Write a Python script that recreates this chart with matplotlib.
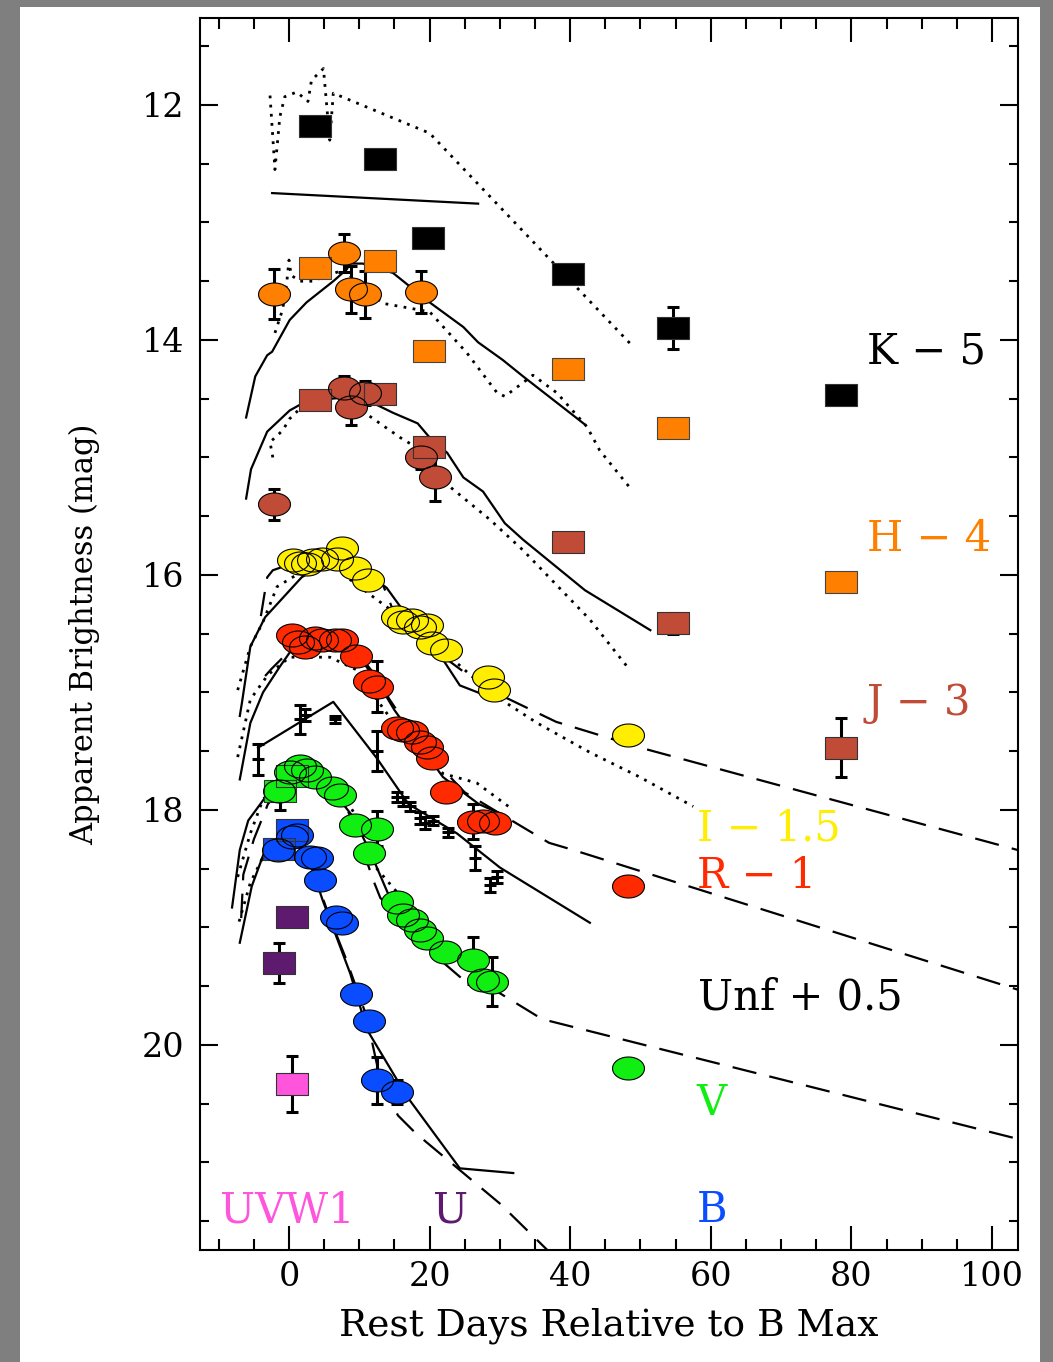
import numpy as np
import matplotlib.pyplot as plt
from matplotlib.path import Path
from matplotlib.patches import Rectangle
from matplotlib.ticker import MultipleLocator

plt.rcParams['font.family'] = ['DejaVu Serif']

# ---------------- photometry (rest days, mag) ----------------
k_day = [3.7, 12.9, 19.8, 39.7, 54.6, 78.5]
k_mag = [12.18, 12.46, 13.13, 13.44, 13.90, 14.47]
k_err = [0, 0, 0, 0, 0.18, 0]

h_cday = [-2.1, 7.8, 8.8, 10.8, 18.8]
h_cmag = [13.61, 13.26, 13.57, 13.61, 13.59]
h_cerr = [0.21, 0.16, 0.2, 0.2, 0.18]
h_sday = [3.7, 12.9, 19.9, 39.7, 54.6, 78.5]
h_smag = [13.39, 13.33, 14.09, 14.25, 14.75, 16.06]
h_serr = [0, 0, 0, 0, 0, 0.05]

j_cday = [-2.1, 7.8, 8.8, 10.8, 18.8, 20.8]
j_cmag = [15.40, 14.41, 14.57, 14.45, 15.00, 15.17]
j_cerr = [0.13, 0.1, 0.15, 0.1, 0.1, 0.2]
j_sday = [3.7, 12.9, 19.9, 39.7, 54.6, 78.5]
j_smag = [14.51, 14.46, 14.91, 15.72, 16.41, 17.47]
j_serr = [0, 0, 0, 0, 0.09, 0.25]

i_day = [0.6, 1.6, 2.5, 3.4, 4.7, 6.8, 7.5, 9.4, 11.2, 15.4, 16.2, 17.5, 18.6,
         19.6, 20.3, 22.3, 28.3, 29.2, 48.2]
i_mag = [15.87, 15.90, 15.91, 15.87, 15.86, 15.86, 15.77, 15.94, 16.04, 16.36,
         16.40, 16.38, 16.44, 16.43, 16.58, 16.64, 16.87, 16.98, 17.36]

r_day = [0.4, 1.3, 2.3, 3.7, 4.7, 6.5, 7.5, 9.5, 11.4, 12.5, 15.4, 16.2, 17.5,
         18.6, 19.6, 20.3, 22.3, 26.2, 27.6, 29.3, 48.2]
r_mag = [16.51, 16.57, 16.61, 16.54, 16.55, 16.55, 16.55, 16.69, 16.90, 16.95,
         17.30, 17.32, 17.34, 17.42, 17.46, 17.56, 17.85, 18.10, 18.09, 18.11, 18.65]
r_err = [0, 0, 0, 0, 0, 0, 0, 0, 0, 0.22, 0, 0, 0, 0, 0, 0, 0, 0.15, 0, 0, 0]

unf_day = [-4.4, 1.6, 2.3, 6.5, 12.5, 15.4, 16.2, 17.2, 18.6, 19.3, 20.5, 22.6,
           26.5, 28.6, 29.6]
unf_mag = [17.57, 17.23, 17.19, 17.23, 17.50, 17.89, 17.93, 17.97, 18.07, 18.11,
           18.09, 18.19, 18.41, 18.64, 18.57]
unf_err = [0.13, 0.12, 0.05, 0.03, 0.17, 0.04, 0.04, 0.04, 0.05, 0.05, 0.04,
           0.04, 0.10, 0.06, 0.05]

v_cday = [-1.4, 0.1, 1.6, 2.5, 3.7, 6.1, 7.3, 9.4, 11.4, 12.5, 15.4, 16.2, 17.5,
          18.6, 19.6, 22.2, 26.2, 27.6, 28.9, 48.2]
v_cmag = [17.84, 17.68, 17.63, 17.66, 17.72, 17.81, 17.87, 18.13, 18.37, 18.16,
          18.78, 18.89, 18.94, 19.02, 19.09, 19.21, 19.28, 19.45, 19.46, 20.20]
v_cerr = [0, 0, 0, 0, 0, 0, 0, 0, 0, 0.15, 0, 0, 0, 0, 0, 0, 0.2, 0, 0.21, 0]
v_sday = [-1.3, 0.4]
v_smag = [17.84, 17.71]
v_serr = [0.16, 0]

b_cday = [-1.6, 0.4, 1.1, 3.0, 4.0, 4.4, 6.7, 7.5, 9.5, 11.4, 12.5, 15.4]
b_cmag = [18.34, 18.23, 18.21, 18.40, 18.41, 18.60, 18.91, 18.96, 19.57, 19.80,
          20.30, 20.40]
b_cerr = [0, 0, 0, 0, 0, 0, 0, 0, 0, 0, 0.2, 0.1]
b_sday = [-1.4, 0.4]
b_smag = [18.33, 18.17]

u_day = [-1.4, 0.4]
u_mag = [19.30, 18.91]
u_err = [0.17, 0]

uvw1_day = [0.4]
uvw1_mag = [20.33]
uvw1_err = [0.24]

# ---------------- model / template curves ----------------
k_dot_day = [-2.7, -2.0, -1.3, -0.6, 1.1, 2.7, 3.2, 4.9, 5.8, 6.3, 20.0, 28.6, 49.0]
k_dot_mag = [11.92, 12.55, 12.10, 11.93, 11.89, 11.97, 11.79, 11.69, 12.30, 11.90,
             12.24, 12.78, 14.06]
k_sol_day = [-2.4, 26.9]
k_sol_mag = [12.75, 12.84]

h_sol_day = [-6.1, -4.8, -3.1, -2.4, 0.1, 2.5, 6.3, 8.2, 8.7, 10.5, 14.8, 20.0,
             24.8, 26.9, 30.4, 33.3, 42.1]
h_sol_mag = [14.66, 14.31, 14.13, 14.10, 13.83, 13.68, 13.50, 13.40, 13.35, 13.35,
             13.43, 13.68, 13.89, 14.02, 14.17, 14.31, 14.72]
h_dot_day = [-2.0, -0.9, -0.3, 0.0, 0.3, 1.6, 3.4, 5.5, 8.0, 10.0, 13.5, 20.0,
             25.3, 29.6, 30.7, 34.7, 38.1, 42.4, 44.2, 48.8]
h_dot_mag = [13.94, 13.74, 13.50, 13.32, 13.45, 13.50, 13.50, 13.45, 13.40, 13.55,
             13.69, 13.76, 14.11, 14.45, 14.48, 14.30, 14.45, 14.74, 14.94, 15.28]

j_sol_day = [-6.1, -5.4, -3.1, 0.1, 1.6, 6.0, 10.0, 14.8, 18.3, 20.0, 22.5, 24.8,
             27.6, 30.7, 33.3, 42.1, 51.4]
j_sol_mag = [15.35, 15.10, 14.78, 14.60, 14.55, 14.50, 14.48, 14.62, 14.71, 14.83,
             14.96, 15.17, 15.29, 15.56, 15.70, 16.13, 16.47]
j_dot_day = [-2.3, -2.7, -0.9, 0.1, 1.3, 3.0, 6.0, 8.0, 11.5, 15.8, 19.1, 22.9,
             28.6, 33.3, 42.8, 48.5]
j_dot_mag = [15.00, 14.87, 14.77, 14.67, 14.60, 14.55, 14.50, 14.50, 14.65, 14.83,
             14.95, 15.25, 15.53, 15.79, 16.38, 16.81]

i_sol_day = [-7.0, -6.7, -5.5, -3.4, 1.8, 5.0, 8.0, 11.0, 13.9, 16.2, 21.9, 24.3, 28.6]
i_sol_mag = [17.20, 17.09, 16.61, 16.36, 16.02, 15.90, 15.88, 15.98, 16.11, 16.30,
             16.72, 16.94, 17.04]
i_dsh_day = [-4.0, -3.1, -2.3, 2.0, 7.0, 11.0, 13.4, 14.8, 19.0, 22.5, 27.0, 30.0,
             38.0, 50.0, 103.6]
i_dsh_mag = [16.35, 16.02, 15.96, 15.87, 15.83, 16.00, 16.09, 16.30, 16.55, 16.72,
             16.92, 17.02, 17.25, 17.47, 18.34]
i_dot_day = [-7.3, -5.5, -3.7, -1.7, 1.6, 6.3, 8.7, 12.5, 19.1, 23.9, 28.6, 35.3,
             42.8, 49.9, 57.5]
i_dot_mag = [16.98, 16.61, 16.40, 16.10, 15.98, 15.93, 16.04, 16.21, 16.50, 16.75,
             17.00, 17.26, 17.51, 17.72, 17.97]

r_sol_day = [-7.0, -5.5, -3.7, -1.3, 0.1, 3.0, 7.0, 10.0, 12.5, 15.0, 18.0, 21.9,
             24.3, 27.0, 30.0]
r_sol_mag = [17.74, 17.26, 17.00, 16.78, 16.66, 16.58, 16.57, 16.70, 16.90, 17.15,
             17.40, 17.72, 17.83, 17.95, 18.03]
r_dsh_day = [-3.4, -2.5, 0.0, 3.0, 7.0, 10.0, 13.5, 14.2, 17.0, 21.0, 25.0, 30.0,
             37.0, 40.4, 103.7]
r_dsh_mag = [16.86, 16.80, 16.65, 16.58, 16.56, 16.68, 16.95, 17.05, 17.30, 17.60,
             17.85, 18.03, 18.28, 18.34, 19.53]
r_dot_day = [-7.3, -5.5, -3.0, 0.1, 5.8, 9.7, 12.5, 16.0, 21.9, 26.7, 31.9]
r_dot_mag = [17.55, 17.06, 16.85, 16.70, 16.70, 16.81, 17.06, 17.35, 17.69, 17.77, 18.00]

unf_sol_day = [-4.4, 6.3, 12.5, 17.0, 23.9, 30.0, 42.8]
unf_sol_mag = [17.47, 17.08, 17.56, 17.95, 18.20, 18.49, 18.96]

v_sol_day = [-8.1, -7.0, -5.8, -3.1, 0.0, 3.0, 6.0, 9.0, 11.5, 14.0, 17.0, 21.0, 24.3]
v_sol_mag = [18.83, 18.34, 18.09, 17.87, 17.73, 17.72, 17.82, 18.05, 18.35, 18.70,
             18.95, 19.25, 19.42]
v_dot_day = [-7.3, -5.5, -3.7, -1.0, 2.0, 5.0, 8.0, 10.0, 12.5, 16.8, 20.0]
v_dot_mag = [18.57, 18.20, 17.91, 17.75, 17.70, 17.75, 17.90, 18.10, 18.50, 18.80, 18.97]
v_dsh_day = [-6.8, -6.5, -5.0, -3.0, 0.0, 3.0, 6.0, 8.0, 10.0, 12.0, 13.0, 16.0,
             20.0, 25.0, 30.0, 36.0, 53.2, 103.7]
v_dsh_mag = [18.92, 18.55, 18.25, 17.95, 17.75, 17.70, 17.80, 17.95, 18.25, 18.60,
             18.75, 18.90, 19.10, 19.30, 19.56, 19.78, 20.04, 20.80]

b_sol_day = [-7.0, -5.3, -3.4, -1.3, 1.0, 3.0, 4.8, 8.7, 11.1, 16.8, 24.3, 31.9]
b_sol_mag = [19.13, 18.65, 18.34, 18.26, 18.25, 18.45, 18.77, 19.39, 19.87, 20.44,
             21.05, 21.09]
b_dot_day = [-7.1, -5.5, -3.7, -2.0]
b_dot_mag = [18.95, 18.62, 18.40, 18.30]
b_dsh_day = [0.0, 3.0, 6.0, 8.0, 9.5, 11.0, 13.0, 15.5, 18.0, 21.0, 25.0, 30.0, 37.0]
b_dsh_mag = [18.20, 18.45, 18.95, 19.25, 19.50, 19.75, 20.30, 20.60, 20.75, 20.90,
             21.10, 21.35, 21.76]

# band labels: text, colour, left day, baseline mag
labels = [('K \u2212 5', '#000000', 82.2, 14.20),
          ('H \u2212 4', '#FF8000', 82.2, 15.80),
          ('J \u2212 3', '#C04B37', 82.2, 17.19),
          ('I \u2212 1.5', '#FFEE00', 58.0, 18.26),
          ('R \u2212 1', '#FF2A00', 58.0, 18.66),
          ('Unf + 0.5', '#000000', 58.2, 19.70),
          ('V', '#11EE11', 58.0, 20.60),
          ('B', '#0A4CFF', 58.0, 21.51),
          ('UVW1', '#FF55DD', -9.8, 21.51),
          ('U', '#5E1A6E', 20.5, 21.51)]

# ---------------- figure ----------------
fig = plt.figure(figsize=(10.53, 13.62), dpi=100)
fig.patch.set_facecolor('#7f7f7f')
fig.add_artist(Rectangle((20 / 1053, 0), 1020 / 1053, 1 - 7 / 1362,
                         transform=fig.transFigure, facecolor='white',
                         edgecolor='none', zorder=-5))
ax = fig.add_axes([200 / 1053, 1 - 1250 / 1362, 818 / 1053, 1232 / 1362])

t = np.linspace(0, 2 * np.pi, 65)
oval = Path(np.column_stack([np.cos(t), 0.72 * np.sin(t)]), closed=True)
box = Path([(-1, -0.72), (1, -0.72), (1, 0.72), (-1, 0.72), (-1, -0.72)], closed=True)

DOT = (0, (1, 2.3))
DASH = (0, (11, 6))


def curve(d, m, ls):
    if ls == DOT:
        ax.plot(d, m, color='k', lw=2.0, ls=ls, zorder=2)
    else:
        ax.plot(d, m, color='k', lw=1.6, ls=ls, zorder=2)


def points(d, m, err, color, shape, edge='k'):
    ax.errorbar(d, m, yerr=err, fmt='none', ecolor='k', elinewidth=2.2,
                capsize=4.5, capthick=2.2, zorder=3)
    ax.plot(d, m, ls='none', marker=shape, ms=23, mfc=color, mec='none', zorder=4)
    ax.plot(d, m, ls='none', marker=shape, ms=23, mfc='none', mec=edge, mew=0.8,
            zorder=5)


curve(k_dot_day, k_dot_mag, DOT)
curve(k_sol_day, k_sol_mag, '-')
curve(h_sol_day, h_sol_mag, '-')
curve(h_dot_day, h_dot_mag, DOT)
curve(j_sol_day, j_sol_mag, '-')
curve(j_dot_day, j_dot_mag, DOT)
curve(i_sol_day, i_sol_mag, '-')
curve(i_dsh_day, i_dsh_mag, DASH)
curve(i_dot_day, i_dot_mag, DOT)
curve(r_sol_day, r_sol_mag, '-')
curve(r_dsh_day, r_dsh_mag, DASH)
curve(r_dot_day, r_dot_mag, DOT)
curve(unf_sol_day, unf_sol_mag, '-')
curve(v_sol_day, v_sol_mag, '-')
curve(v_dot_day, v_dot_mag, DOT)
curve(v_dsh_day, v_dsh_mag, DASH)
curve(b_sol_day, b_sol_mag, '-')
curve(b_dot_day, b_dot_mag, DOT)
curve(b_dsh_day, b_dsh_mag, DASH)

points(k_day, k_mag, k_err, '#000000', box, '#333333')
points(h_sday, h_smag, h_serr, '#FF8000', box, '#444444')
points(h_cday, h_cmag, h_cerr, '#FF8000', oval)
points(j_sday, j_smag, j_serr, '#C04B37', box, '#333333')
points(j_cday, j_cmag, j_cerr, '#C04B37', oval)
points(i_day, i_mag, [0] * len(i_day), '#FFEE00', oval)
points(r_day, r_mag, r_err, '#FF2A00', oval)
points(v_sday, v_smag, v_serr, '#11EE11', box, '#333333')
points(v_cday, v_cmag, v_cerr, '#11EE11', oval)
points(b_sday, b_smag, [0, 0], '#0A4CFF', box, '#333333')
points(b_cday, b_cmag, b_cerr, '#0A4CFF', oval)
points(u_day, u_mag, u_err, '#5E1A6E', box, '#333333')
points(uvw1_day, uvw1_mag, uvw1_err, '#FF55DD', box, '#333333')

# unfiltered points: small crosses with error bars
ax.errorbar(unf_day, unf_mag, yerr=unf_err, fmt='_', color='k', ms=9, mew=2.2,
            elinewidth=2.2, capsize=4, capthick=2.2, zorder=3)

for txt, col, d, m in labels:
    ax.text(d, m, txt, color=col, fontsize=30, ha='left', va='baseline', zorder=6)

ax.set_xlim(-12.66, 103.7)
ax.set_ylim(21.745, 11.26)
ax.xaxis.set_major_locator(MultipleLocator(20))
ax.xaxis.set_minor_locator(MultipleLocator(5))
ax.yaxis.set_major_locator(MultipleLocator(2))
ax.yaxis.set_minor_locator(MultipleLocator(0.5))
ax.tick_params(axis='both', which='both', direction='in', top=True, right=True,
               width=1.5, labelsize=24)
ax.tick_params(axis='x', which='major', length=17, pad=8)
ax.tick_params(axis='x', which='minor', length=8)
ax.tick_params(axis='y', which='major', length=13, pad=11)
ax.tick_params(axis='y', which='minor', length=6.5)
for s in ax.spines.values():
    s.set_linewidth(1.5)

ax.set_xlabel('Rest Days Relative to B Max', fontsize=27)
ax.set_ylabel('Apparent Brightness (mag)', fontsize=22)
ax.xaxis.set_label_coords(0.5, -0.047)
ax.yaxis.set_label_coords(-0.122, 0.5)

fig.savefig('out.png', dpi=100, facecolor=fig.get_facecolor())
